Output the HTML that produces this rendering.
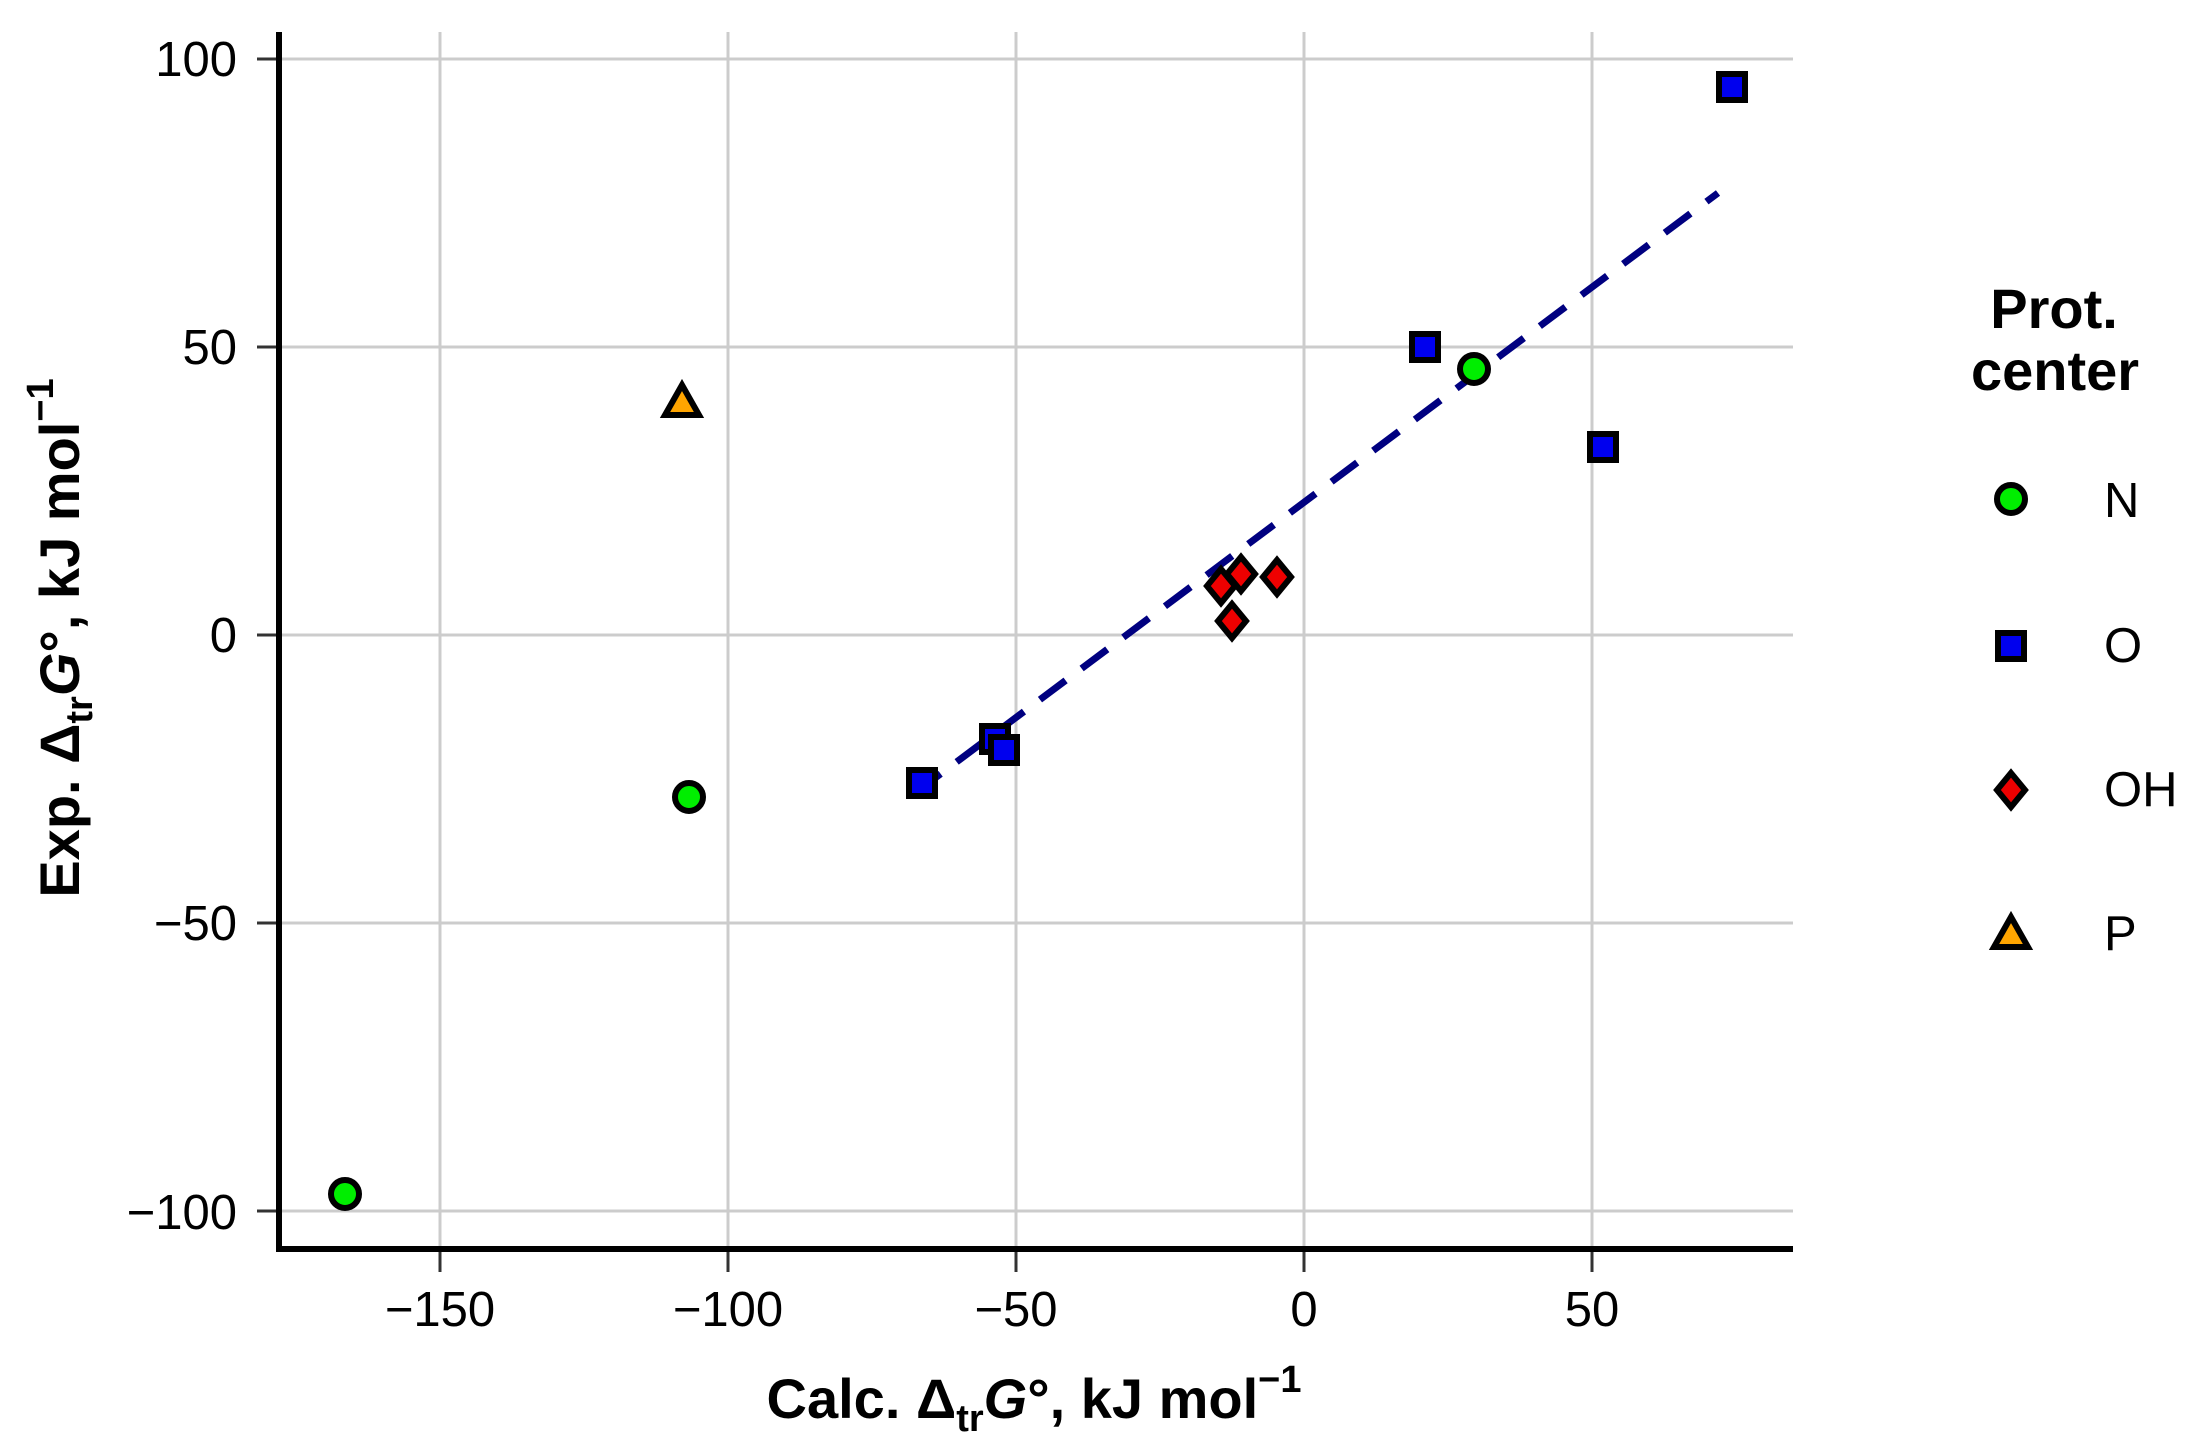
<!DOCTYPE html>
<html><head><style>html,body{margin:0;padding:0;background:#fff}svg{display:block}</style></head><body>
<svg width="2204" height="1455" viewBox="0 0 2204 1455" xmlns="http://www.w3.org/2000/svg" font-family="Liberation Sans, Arial, sans-serif">
<rect width="2204" height="1455" fill="#fff"/>
<g stroke="#cccccc" stroke-width="3">
<line x1="440" y1="32" x2="440" y2="1249"/>
<line x1="728" y1="32" x2="728" y2="1249"/>
<line x1="1016" y1="32" x2="1016" y2="1249"/>
<line x1="1304" y1="32" x2="1304" y2="1249"/>
<line x1="1592" y1="32" x2="1592" y2="1249"/>
<line x1="279" y1="59" x2="1793" y2="59"/>
<line x1="279" y1="347" x2="1793" y2="347"/>
<line x1="279" y1="635" x2="1793" y2="635"/>
<line x1="279" y1="923" x2="1793" y2="923"/>
<line x1="279" y1="1211" x2="1793" y2="1211"/>
</g>
<g stroke="#333" stroke-width="3">
<line x1="440" y1="1249" x2="440" y2="1272"/>
<line x1="728" y1="1249" x2="728" y2="1272"/>
<line x1="1016" y1="1249" x2="1016" y2="1272"/>
<line x1="1304" y1="1249" x2="1304" y2="1272"/>
<line x1="1592" y1="1249" x2="1592" y2="1272"/>
<line x1="257" y1="59" x2="279" y2="59"/>
<line x1="257" y1="347" x2="279" y2="347"/>
<line x1="257" y1="635" x2="279" y2="635"/>
<line x1="257" y1="923" x2="279" y2="923"/>
<line x1="257" y1="1211" x2="279" y2="1211"/>
</g>
<path d="M279,32 V1249 H1793" fill="none" stroke="#000" stroke-width="6"/>
<g font-size="49" fill="#000" text-anchor="middle">
<text x="440" y="1326">−150</text>
<text x="728" y="1326">−100</text>
<text x="1016" y="1326">−50</text>
<text x="1304" y="1326">0</text>
<text x="1592" y="1326">50</text>
</g>
<g font-size="49" fill="#000" text-anchor="end">
<text x="237" y="76">100</text>
<text x="237" y="364">50</text>
<text x="237" y="652">0</text>
<text x="237" y="940">−50</text>
<text x="237" y="1229">−100</text>
</g>
<text x="1034" y="1418" font-size="56" font-weight="bold" text-anchor="middle">Calc. Δ<tspan font-size="38" dy="13">tr</tspan><tspan dy="-13" font-style="italic">G</tspan>°, kJ mol<tspan font-size="38" dy="-26">−1</tspan></text>
<text transform="translate(79,638) rotate(-90)" font-size="56" font-weight="bold" text-anchor="middle">Exp. Δ<tspan font-size="38" dy="13">tr</tspan><tspan dy="-13" font-style="italic">G</tspan>°, kJ mol<tspan font-size="38" dy="-26">−1</tspan></text>
<line x1="915" y1="793" x2="1718" y2="193" stroke="#000080" stroke-width="7" stroke-dasharray="32,20"/>
<g stroke="#000" stroke-width="6">
<circle cx="345" cy="1194" r="14" fill="#00ee00"/>
<circle cx="689" cy="797" r="14" fill="#00ee00"/>
<circle cx="1474" cy="369" r="14" fill="#00ee00"/>
<rect x="1719" y="74" width="26" height="26" fill="#0000ee"/>
<rect x="1412" y="334" width="26" height="26" fill="#0000ee"/>
<rect x="1590" y="434" width="26" height="26" fill="#0000ee"/>
<rect x="982" y="726" width="26" height="26" fill="#0000ee"/>
<rect x="991" y="737" width="26" height="26" fill="#0000ee"/>
<rect x="909" y="770" width="26" height="26" fill="#0000ee"/>
<path d="M1221,569 l14,17 l-14,17 l-14,-17z" fill="#ee0000"/>
<path d="M1241,557 l14,17 l-14,17 l-14,-17z" fill="#ee0000"/>
<path d="M1277,560 l14,17 l-14,17 l-14,-17z" fill="#ee0000"/>
<path d="M1232,604 l14,17 l-14,17 l-14,-17z" fill="#ee0000"/>
<path d="M682,385 l17,30 h-34z" fill="#ffa500"/>
<circle cx="2011" cy="499" r="14" fill="#00ee00"/>
<rect x="1998" y="633" width="26" height="26" fill="#0000ee"/>
<path d="M2011,773 l14,17 l-14,17 l-14,-17z" fill="#ee0000"/>
<path d="M2011,917 l17,30 h-34z" fill="#ffa500"/>
</g>
<g font-weight="bold" font-size="56" text-anchor="middle">
<text x="2054" y="328">Prot.</text>
<text x="2055" y="390">center</text>
</g>
<g font-size="49">
<text x="2104" y="517">N</text>
<text x="2104" y="662">O</text>
<text x="2104" y="806">OH</text>
<text x="2104" y="950">P</text>
</g>
</svg>
</body></html>
